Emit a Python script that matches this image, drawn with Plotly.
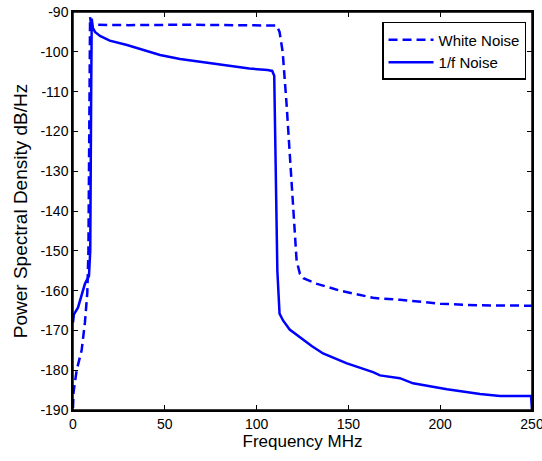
import plotly.graph_objects as go

# White noise PSD (dashed)
white_freq = [0, 0.3, 2.0, 4.7, 6.5, 7.8, 8.4, 8.8, 9.3, 9.8, 10.5, 12, 30, 60, 90, 108, 111.0, 112.5,
              114.2, 116.3, 118.2, 119.8, 121.8, 123.6, 125.5, 132.9, 141.6, 145.4, 163.4, 167.2,
              178, 200, 221, 250]
white_psd = [-189.5, -185.5, -180.0, -175.0, -168.0, -160.5, -150, -120, -91.3, -92.8, -93.2, -93.2,
             -93.3, -93.2, -93.3, -93.3, -93.4, -95.0,
             -100.0, -113.0, -127.5, -140.0, -152.5, -155.8, -156.9, -158.3, -159.5, -160.0, -161.8, -162.0,
             -162.3, -163.3, -163.7, -163.8]

# 1/f noise PSD (solid)
flick_freq = [0, 0.5, 2.7, 6.5, 8.7, 9.4, 9.9, 10.2, 10.8, 12, 14.7, 20, 29.4, 40, 47.4, 58.3, 75, 96,
              106, 108.5, 109.6, 110.3, 111.3, 112.5, 114.4, 118, 123.6, 130, 136.2, 149.2, 163.4, 167.2,
              178, 185.2, 203.7, 221.7, 232.6, 249.5, 250]
flick_psd = [-168.0, -166.0, -164.3, -158.3, -156.3, -150, -110, -91.7, -94.0, -95.0, -96.0, -97.2, -98.3,
             -99.8, -100.8, -101.8, -102.8, -104.2,
             -104.6, -104.8, -106, -130, -155, -165.8, -167.5, -169.8, -171.8, -173.9, -175.8, -178.3, -180.5,
             -181.3, -182.0, -183.3, -184.8, -186.0, -186.5, -186.5, -190]

x_ticks = [0, 50, 100, 150, 200, 250]
y_ticks = [-90, -100, -110, -120, -130, -140, -150, -160, -170, -180, -190]

BLUE = "#0000ff"
FONT = "Liberation Sans, Arial, sans-serif"

fig = go.Figure()
fig.add_trace(go.Scatter(x=white_freq, y=white_psd, mode="lines", name="White Noise",
                         line=dict(color=BLUE, width=2.5, dash="9px,5px"), cliponaxis=False))
fig.add_trace(go.Scatter(x=flick_freq, y=flick_psd, mode="lines", name="1/f Noise",
                         line=dict(color=BLUE, width=2.5), cliponaxis=False))

axis_common = dict(showline=True, linecolor="black", linewidth=1.5, mirror="ticks",
                   ticks="inside", ticklen=5, tickcolor="black", tickwidth=1,
                   showgrid=False, zeroline=False, automargin=False,
                   ticklabeloverflow="allow",
                   tickfont=dict(family=FONT, size=14, color="black"))

fig.update_xaxes(range=[0, 250], tickvals=x_ticks, ticktext=[str(v) for v in x_ticks],
                 title=dict(text="Frequency MHz", font=dict(family=FONT, size=17, color="black"), standoff=2),
                 **axis_common)
fig.update_yaxes(range=[-190, -90], tickvals=y_ticks, ticktext=[str(v) for v in y_ticks],
                 title=dict(text="Power Spectral Density dB/Hz", font=dict(family=FONT, size=19, color="black"),
                            standoff=8),
                 **axis_common)

# axes frame box (paper coordinates)
fig.add_shape(type="rect", xref="paper", yref="paper", x0=0, x1=1, y0=0, y1=1,
              line=dict(color="black", width=1.5), fillcolor="rgba(0,0,0,0)", layer="above")

fig.update_layout(
    width=542, height=461,
    margin=dict(l=73, r=10, t=12, b=51),
    paper_bgcolor="white", plot_bgcolor="white",
    showlegend=True,
    legend=dict(x=0.987, y=0.975, xanchor="right", yanchor="top",
                bgcolor="white", bordercolor="black", borderwidth=1.5,
                font=dict(family=FONT, size=15, color="black"),
                itemwidth=45, tracegroupgap=0),
    font=dict(family=FONT, color="black"),
)

fig.write_html("out.html",
               config={"displayModeBar": False},
               post_script=("document.documentElement.style.margin='0';"
                            "document.documentElement.style.overflow='hidden';"
                            "document.body.style.margin='0';"
                            "document.body.style.padding='0';"
                            "document.body.style.overflow='hidden';"))
